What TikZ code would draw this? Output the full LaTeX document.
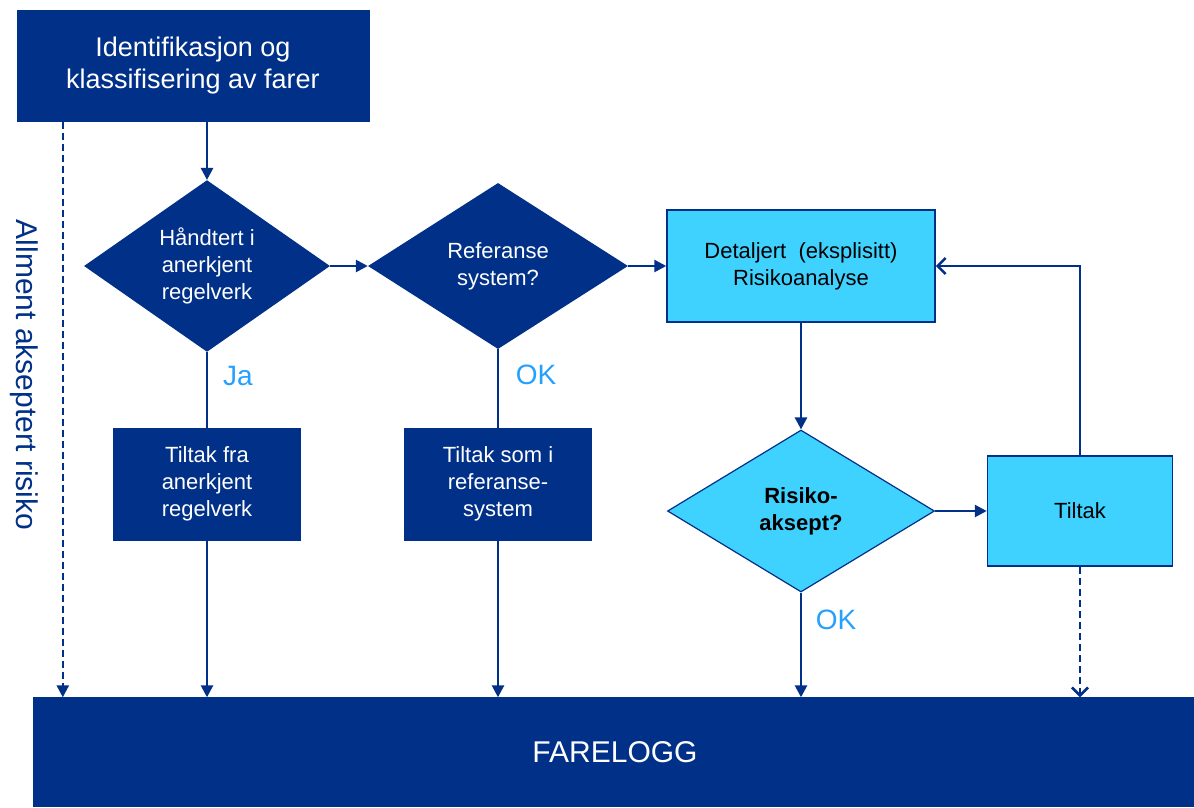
\documentclass[tikz,border=0pt]{standalone}
\usepackage{fontspec}
\setmainfont{Liberation Sans}
\usetikzlibrary{positioning}
\usetikzlibrary{arrows.meta}
\usetikzlibrary{shapes.geometric}
\definecolor{farblaa}{RGB}{0,48,135}
\definecolor{lysblaa}{RGB}{64,210,255}
\definecolor{okblaa}{RGB}{38,160,255}

\begin{document}
\begin{tikzpicture}[x=1pt,y=-1pt,
    every node/.style = {align=center, font=\fontsize{22}{27}\selectfont},
    mork/.style = {rectangle, fill=farblaa, draw=farblaa, text=white, minimum width=187pt, minimum height=112pt},
    lys/.style = {rectangle, fill=lysblaa, draw=farblaa, line width=1.5pt, text=black},
    morkrute/.style = {diamond, fill=farblaa, text=white, inner sep=0pt},
    lysrute/.style = {diamond, fill=lysblaa, draw=farblaa, line width=1.2pt, inner sep=0pt},
    linje/.style = {draw=farblaa, line width=2.6pt},
    pil/.style = {linje, -{Triangle[length=12pt,width=12pt]}},
    apenpil/.style = {linje, -{Straight Barb[length=8pt,width=16pt]}},
    stiplet/.style = {dash pattern=on 7pt off 4pt},
    svar/.style = {text=okblaa, font=\fontsize{28}{32}\selectfont}]
\useasboundingbox (0,0) rectangle (1194,807);

% boksene
\node[mork, minimum width=352pt, minimum height=111pt, font=\fontsize{27}{32}\selectfont] (ident) at (193,66) {Identifikasjon og\\klassifisering av farer};
\node[morkrute, minimum width=246pt, minimum height=164pt] (haandtert) at (207,266) {Håndtert i\\anerkjent\\regelverk};
\node[morkrute, minimum width=260pt, minimum height=166pt] (referanse) at (498,266) {Referanse\\system?};
\node[lys, minimum width=268pt, minimum height=112pt] (detaljert) at (801,266) {Detaljert \ (eksplisitt)\\Risikoanalyse};
\node[mork] (regelverk) at (207,484) {Tiltak fra\\anerkjent\\regelverk};
\node[mork] (refsystem) at (498,484) {Tiltak som i\\referanse-\\system};
\node[lysrute, minimum width=267pt, minimum height=162pt, font=\fontsize{22}{27}\selectfont\bfseries] (risiko) at (801,511) {Risiko-\\aksept?};
\node[lys, minimum width=185pt, minimum height=110pt] (tiltak) at (1080,511) {Tiltak};
\node[mork, minimum width=1164pt, minimum height=109pt, font=\fontsize{30}{34}\selectfont] (farelogg) at (615,752) {FARELOGG};
\node[text=farblaa, rotate=-90, font=\fontsize{30}{34}\selectfont] (allment) at (24,375) {Allment akseptert risiko};

% svar
\node[svar] (ja) at (238,376) {Ja};
\node[svar] (okref) at (536,375) {OK};
\node[svar] (okrisiko) at (836,620) {OK};

% piler
\coordinate (akseptstart) at ([xshift=46pt]ident.south west);
\draw[pil, stiplet] (akseptstart) -- (akseptstart |- farelogg.north);
\draw[pil] (ident.south -| haandtert.north) -- (haandtert.north);
\draw[pil] (haandtert.east) -- (referanse.west);
\draw[pil] (referanse.east) -- (detaljert.west);
\draw[linje] (haandtert.south) -- (regelverk.north);
\draw[pil] (regelverk.south) -- (regelverk.south |- farelogg.north);
\draw[linje] (referanse.south) -- (refsystem.north);
\draw[pil] (refsystem.south) -- (refsystem.south |- farelogg.north);
\draw[pil] (detaljert.south) -- (risiko.north);
\draw[pil] (risiko.east) -- (tiltak.west);
\draw[pil] (risiko.south) -- (risiko.south |- farelogg.north);
\draw[apenpil] (tiltak.north) |- (detaljert.east);
\draw[apenpil, stiplet] (tiltak.south) -- (tiltak.south |- farelogg.north);
\end{tikzpicture}
\end{document}
